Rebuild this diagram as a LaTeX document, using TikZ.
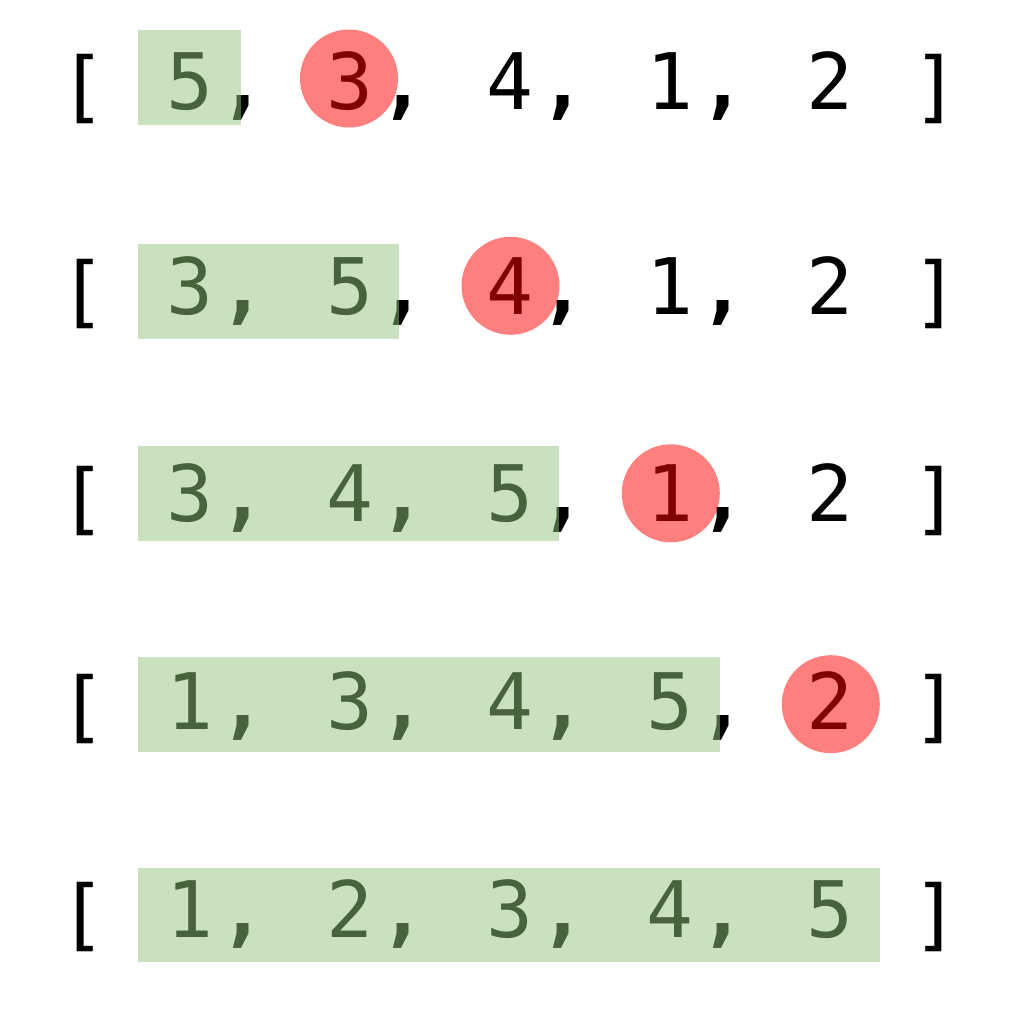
\documentclass[tikz,border=0pt]{standalone}
\usepackage{fontspec}
\newfontfamily\monofont{DejaVu Sans Mono}
\newfontfamily\monobold{DejaVu Sans Mono Bold}
\definecolor{sortgreen}{RGB}{147,196,125}
\begin{document}
\begin{tikzpicture}[x=0.5pt,y=-0.5pt,
  ch/.style={anchor=base, inner sep=0pt, text=black, font=\monofont\fontsize{39}{39}\selectfont},
  punct/.style={anchor=base, inner sep=0pt, text=black, font=\monobold\fontsize{39}{39}\selectfont},
  sorted/.style={fill=sortgreen, fill opacity=0.5},
  keyhl/.style={fill=red, fill opacity=0.5}]
\useasboundingbox (0,0) rectangle (1014,1010);
% text rows
\foreach \r/\bl/\digits in {1/110/{5,3,4,1,2},2/315/{3,5,4,1,2},3/522/{3,4,5,1,2},4/730/{1,3,4,5,2},5/938/{1,2,3,4,5}}{
  \node[ch] (lb\r) at (83,\bl+4) {[};
  \node[ch] (rb\r) at ({83+16*53.33},\bl+4) {]};
  \foreach \v [count=\k from 0] in \digits {
    \node[ch] (d\r-\k) at ({83+(2+3*\k)*53.33},\bl) {\v};
  }
  \foreach \k in {0,...,3} {
    \node[punct] (c\r-\k) at ({83+(3+3*\k)*53.33},\bl) {,};
  }
}
% sorted prefixes
\fill[sorted] (138,30) rectangle (241,125);
\fill[sorted] (138,244) rectangle (399,339);
\fill[sorted] (138,446) rectangle (559,541);
\fill[sorted] (138,657) rectangle (720,752);
\fill[sorted] (138,868) rectangle (880,962);
% current key
\fill[keyhl] (349,78.5) circle (49);
\fill[keyhl] (510.5,285.8) circle (49);
\fill[keyhl] (670.8,493.3) circle (49);
\fill[keyhl] (830.8,704.2) circle (49);
\end{tikzpicture}
\end{document}
